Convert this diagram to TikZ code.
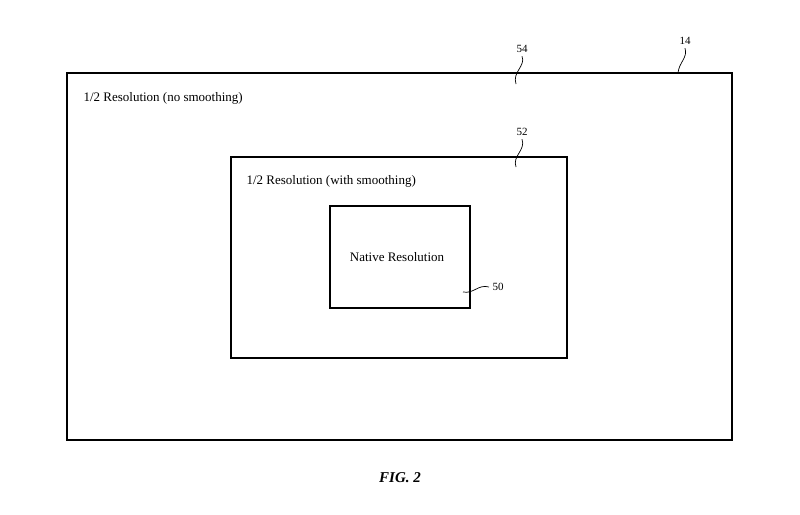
\documentclass[tikz,border=0pt]{standalone}
\usepackage{fontspec}
\setmainfont{Liberation Serif}
\begin{document}
\begin{tikzpicture}[x=1pt,y=-1pt,
  box/.style={draw,line width=1.3pt,inner sep=0pt},
  lbl/.style={font=\fontsize{13}{15}\selectfont,anchor=west},
  ref/.style={font=\fontsize{11}{13}\selectfont},
  lead/.style={line width=0.7pt}]
\useasboundingbox (0,0) rectangle (800,514);
\draw[box] (67,73) rectangle (732,440);
\draw[box] (231,157) rectangle (567,358);
\draw[box] (330,206) rectangle (470,308);
\node[lbl] (t1) at (80,98) {1/2 Resolution (no smoothing)};
\node[lbl] (t2) at (243,181) {1/2 Resolution (with smoothing)};
\node[font=\fontsize{13}{15}\selectfont] (t3) at (397,257) {Native Resolution};
\node[ref] (r54) at (522,49) {54};
\node[ref] (r14) at (685,41) {14};
\node[ref] (r52) at (522,132) {52};
\node[ref,anchor=west] (r50) at (489,287) {50};
\coordinate (e54) at (516,84);
\coordinate (e14) at (678,73);
\coordinate (e52) at (516,167);
\coordinate (e50) at (463,292);
\draw[lead] (r54.south) .. controls (526,66) and (512,72) .. (e54);
\draw[lead] (r14.south) .. controls (688,58) and (679,62) .. (e14);
\draw[lead] (r52.south) .. controls (526,150) and (512,156) .. (e52);
\draw[lead] (e50) .. controls (474,294) and (478,284) .. (r50.west);
\node[font=\bfseries\itshape\fontsize{15}{17}\selectfont] (fig) at (400,478) {FIG. 2};
\end{tikzpicture}
\end{document}
